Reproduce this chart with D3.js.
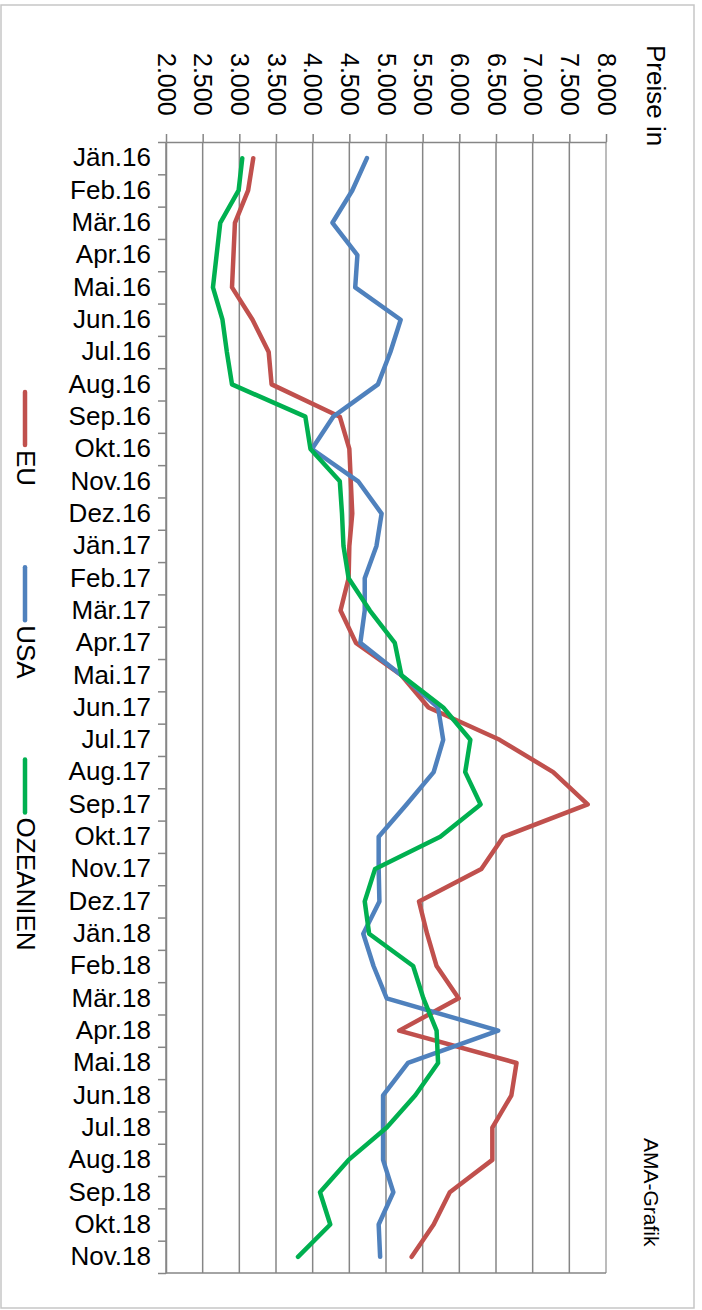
<!DOCTYPE html>
<html>
<head>
<meta charset="utf-8">
<script src="https://cdn.jsdelivr.net/npm/d3@7"></script>
<style>
  body { margin: 0; background: #fff; }
  svg { font-family: 'Liberation Sans', Arial, sans-serif; display: block; }
</style>
</head>
<body>
<div id="chart"></div>
<script>
const MONTHS = ['Jän.16', 'Feb.16', 'Mär.16', 'Apr.16', 'Mai.16', 'Jun.16', 'Jul.16', 'Aug.16', 'Sep.16', 'Okt.16', 'Nov.16', 'Dez.16',
  'Jän.17', 'Feb.17', 'Mär.17', 'Apr.17', 'Mai.17', 'Jun.17', 'Jul.17', 'Aug.17', 'Sep.17', 'Okt.17', 'Nov.17', 'Dez.17',
  'Jän.18', 'Feb.18', 'Mär.18', 'Apr.18', 'Mai.18', 'Jun.18', 'Jul.18', 'Aug.18', 'Sep.18', 'Okt.18', 'Nov.18'];
const EU = [3190, 3120, 2940, 2920, 2900, 3180, 3400, 3440, 4370, 4500, 4520, 4540,
  4500, 4490, 4380, 4590, 5210, 5580, 6550, 7280, 7750, 6600, 6300, 5450,
  5560, 5690, 5990, 5180, 6780, 6710, 6450, 6450, 5870, 5650, 5350];
const USA = [4740, 4540, 4270, 4610, 4580, 5200, 5060, 4890, 4280, 3990, 4620, 4940,
  4870, 4710, 4710, 4650, 5210, 5710, 5780, 5650, 5280, 4900, 4900, 4910,
  4690, 4830, 5010, 6530, 5300, 4960, 4960, 4960, 5100, 4900, 4920];
const OZEANIEN = [3040, 2990, 2740, 2690, 2640, 2770, 2830, 2900, 3900, 3970, 4370, 4400,
  4420, 4490, 4780, 5120, 5210, 5780, 6150, 6080, 6290, 5740, 4850, 4710,
  4770, 5370, 5510, 5690, 5710, 5400, 5010, 4490, 4100, 4240, 3800];
const SERIES_NAMES = ['EU', 'USA', 'OZEANIEN'];
const SERIES_COLORS = ['#C0504D', '#4F81BD', '#00B050'];
const VALUE_TICKS = [2000, 2500, 3000, 3500, 4000, 4500, 5000, 5500, 6000, 6500, 7000, 7500, 8000];
const AXIS_TITLE = 'Preise in';
const SOURCE_NOTE = 'AMA-Grafik';

const width = 702;
const height = 1310;
const margin = {
  top: 142, right: 96, bottom: 37, left: 166,
};
const plotW = width - margin.left - margin.right;
const plotH = height - margin.top - margin.bottom;
const gridColor = '#868686';

const locale = d3.formatLocale({
  decimal: ',', thousands: '.', grouping: [3], currency: ['', ' €'],
});
const fmt = locale.format(',.0f');

const svg = d3.select('#chart')
  .append('svg')
  .attr('width', width)
  .attr('height', height);

// outer frame of the chart area
svg.append('rect')
  .attr('x', 1)
  .attr('y', 5)
  .attr('width', 693)
  .attr('height', 1303)
  .attr('fill', 'none')
  .attr('stroke', '#c6c6c6')
  .attr('stroke-width', 1.5);

const g = svg.append('g')
  .attr('transform', `translate(${margin.left},${margin.top})`);

const x = d3.scaleLinear()
  .domain([d3.min(VALUE_TICKS), d3.max(VALUE_TICKS)])
  .range([0, plotW]);

const y = d3.scaleBand()
  .domain(MONTHS)
  .range([0, plotH]);

// value gridlines (vertical)
g.append('g')
  .selectAll('line')
  .data(VALUE_TICKS)
  .enter()
  .append('line')
  .attr('x1', (d) => x(d))
  .attr('x2', (d) => x(d))
  .attr('y1', 0)
  .attr('y2', plotH)
  .attr('stroke', (d, i) => (i === VALUE_TICKS.length - 1 ? '#a6a6a6' : gridColor))
  .attr('stroke-width', 1.5);

// bottom edge of the plot
g.append('line')
  .attr('x1', 0)
  .attr('x2', plotW)
  .attr('y1', plotH)
  .attr('y2', plotH)
  .attr('stroke', gridColor)
  .attr('stroke-width', 1.5);

// value axis on top, labels turned 90deg
const xAxis = g.append('g')
  .call(d3.axisTop(x).tickValues(VALUE_TICKS).tickFormat(fmt).tickSize(8).tickSizeOuter(0));
xAxis.select('.domain').attr('stroke', gridColor).attr('stroke-width', 1.5);
xAxis.selectAll('.tick line').attr('stroke', gridColor).attr('stroke-width', 1.5);
xAxis.selectAll('.tick text')
  .attr('y', 0)
  .attr('x', 0)
  .attr('dy', '0.35em')
  .attr('text-anchor', 'start')
  .attr('transform', `translate(0,${53 - margin.top}) rotate(90)`)
  .attr('font-size', 25)
  .attr('font-family', 'Liberation Sans, Arial, sans-serif')
  .attr('fill', '#000');

// category ticks sit on band boundaries
const edge = d3.scaleLinear().domain([0, MONTHS.length]).range([0, plotH]);
const yTicks = g.append('g')
  .call(d3.axisLeft(edge).tickValues(d3.range(MONTHS.length + 1)).tickFormat('').tickSize(8).tickSizeOuter(0));
yTicks.select('.domain').attr('stroke', gridColor).attr('stroke-width', 1.5);
yTicks.selectAll('.tick line').attr('stroke', gridColor).attr('stroke-width', 1.5);

const yAxis = g.append('g')
  .call(d3.axisLeft(y).tickSize(0).tickPadding(15));
yAxis.select('.domain').remove();
yAxis.selectAll('.tick text')
  .attr('font-size', 26)
  .attr('font-family', 'Liberation Sans, Arial, sans-serif')
  .attr('fill', '#000');

// series lines
const seriesData = [EU, USA, OZEANIEN];
const line = d3.line()
  .x((d) => x(d.v))
  .y((d) => y(d.m) + y.bandwidth() / 2);

g.append('g')
  .selectAll('path')
  .data(seriesData)
  .enter()
  .append('path')
  .attr('d', (vals) => line(vals.map((v, i) => ({ m: MONTHS[i], v }))))
  .attr('fill', 'none')
  .attr('stroke', (d, i) => SERIES_COLORS[i])
  .attr('stroke-width', 4.5)
  .attr('stroke-linejoin', 'round')
  .attr('stroke-linecap', 'round');

// legend, running top to bottom
const legend = svg.append('g');
let legendY = 392;
SERIES_NAMES.forEach((name, i) => {
  legend.append('line')
    .attr('x1', 25)
    .attr('x2', 25)
    .attr('y1', legendY)
    .attr('y2', legendY + 53)
    .attr('stroke', SERIES_COLORS[i])
    .attr('stroke-width', 4.5)
    .attr('stroke-linecap', 'round');
  const t = legend.append('text')
    .attr('transform', `translate(26,${legendY + 58}) rotate(90)`)
    .attr('dy', '0.35em')
    .attr('font-size', 26)
    .text(name);
  legendY += 58 + t.node().getComputedTextLength() + 81;
});

svg.append('text')
  .attr('transform', 'translate(656,45) rotate(90)')
  .attr('dy', '0.35em')
  .attr('font-size', 26)
  .text(AXIS_TITLE);

svg.append('text')
  .attr('transform', 'translate(651,1138) rotate(90)')
  .attr('dy', '0.35em')
  .attr('font-size', 21)
  .text(SOURCE_NOTE);
</script>
</body>
</html>
